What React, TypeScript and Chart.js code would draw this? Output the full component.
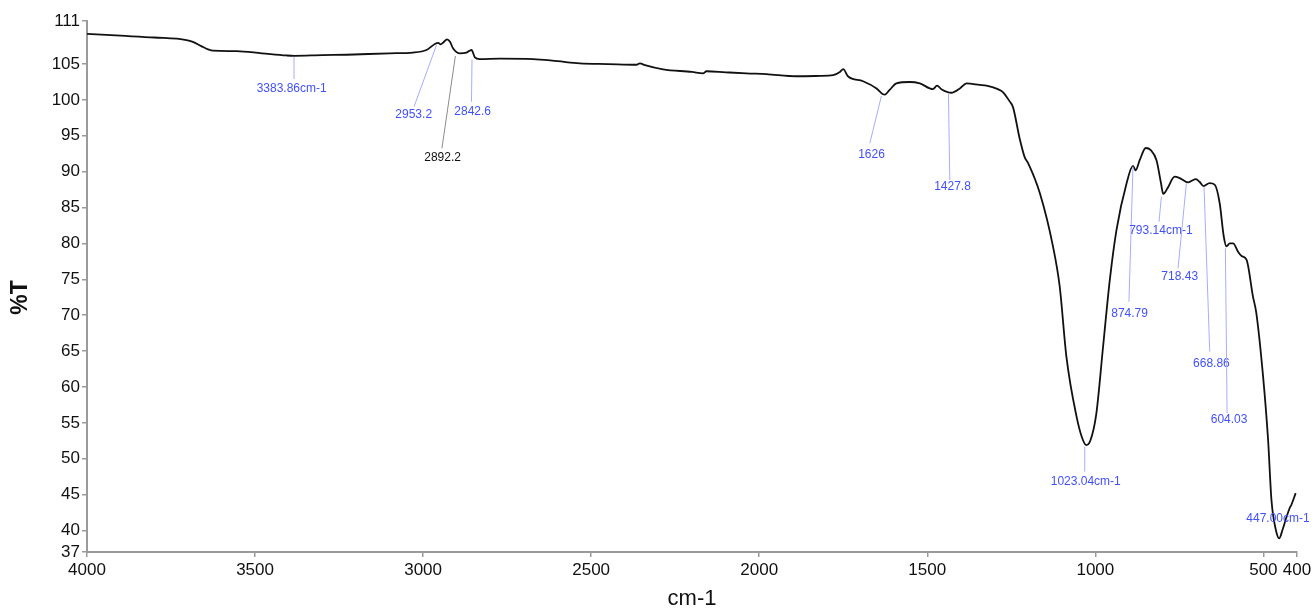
import React, { useEffect, useRef } from "react";
import { Chart, registerables } from "chart.js";

Chart.register(...registerables);

// Spectrum (wavenumber cm-1, %T)
const wavenumbers = [
  4000, 3900, 3800, 3704, 3685, 3660, 3640, 3625, 3555, 3480, 3407, 3384, 3300, 3228, 3100, 3030,
  2990, 2965, 2955, 2948, 2940, 2929, 2920, 2911, 2892, 2871, 2856, 2846, 2832, 2772, 2673, 2600,
  2534, 2450, 2365, 2355, 2340, 2286, 2200, 2167, 2157, 2100, 2038, 1979, 1889, 1820, 1780, 1760,
  1750, 1736, 1691, 1651, 1632, 1626, 1612, 1592, 1552, 1522, 1483, 1471, 1458, 1428, 1403, 1383,
  1344, 1324, 1290, 1275, 1255, 1245, 1225, 1210, 1200, 1165, 1126, 1106, 1086, 1056, 1040, 1027,
  1015, 997, 977, 957, 937, 907, 888, 880, 868, 850, 835, 818, 805, 798, 790, 784, 764, 749, 724,
  711, 701, 690, 678, 660, 645, 630, 618, 610, 600, 590, 575, 565, 550, 531, 521, 501, 486, 476,
  463, 453, 443, 431, 422, 417, 404,
];
const transmittance = [
  109.2, 108.95, 108.7, 108.35, 108.1, 107.5, 107.05, 106.86, 106.8, 106.5, 106.2, 106.15, 106.25, 106.3, 106.5, 106.6,
  106.96, 107.8, 107.95, 107.75, 108.0, 108.45, 108.1, 107.2, 106.5, 106.6, 106.96, 105.94, 105.7, 105.75, 105.7, 105.4,
  105.1, 105.0, 104.9, 105.1, 104.85, 104.27, 103.9, 103.7, 104.0, 103.85, 103.7, 103.6, 103.3, 103.35, 103.45, 103.9,
  104.3, 103.3, 102.6, 101.6, 100.8, 100.75, 101.4, 102.3, 102.5, 102.3, 101.5, 102.0, 101.5, 101.0, 101.6, 102.3,
  102.1, 102.0, 101.5, 101.1, 99.8, 99.0, 94.6, 92.0, 91.2, 87.0, 79.6, 74.0, 64.2, 55.9, 53.0, 51.9,
  52.5, 56.3, 65.6, 74.9, 81.9, 88.4, 90.8, 90.2, 91.6, 93.3, 93.0, 91.6, 88.5, 86.9, 87.3, 87.8, 89.3, 89.1, 88.5,
  88.8, 88.95, 88.6, 88.0, 88.4, 88.2, 85.6, 81.0, 79.6, 80.0, 80.0, 78.8, 78.25, 77.7, 72.6, 70.3, 61.5, 52.6, 44.25,
  40.1, 38.9, 40.1, 41.9, 43.1, 43.55, 45.2,
];

const xTickValues = [4000, 3500, 3000, 2500, 2000, 1500, 1000, 500, 400];
const yTickValues = [37, 40, 45, 50, 55, 60, 65, 70, 75, 80, 85, 90, 95, 100, 105, 111];

// Peak annotations (data coordinates)
const peakLabels = [
  "3383.86cm-1", "2953.2", "2892.2", "2842.6", "1626", "1427.8", "1023.04cm-1",
  "874.79", "793.14cm-1", "718.43", "668.86", "604.03", "447.00cm-1",
];
const peakX = [3384, 2960, 2904, 2854.5, 1636.5, 1437, 1031.5, 888, 803.4, 729, 676.6, 613, null];
const peakY = [106.0, 107.66, 106.12, 105.66, 100.55, 100.9, 51.68, 90.7, 86.52, 88.38, 87.9, 79.33, null];
const leaderEndX = [3384, 3027, 2944, 2856, 1671, 1433, 1031.5, 900, 810.5, 754, 659.6, 608, null];
const leaderEndY = [102.9, 99.06, 93.26, 99.75, 93.96, 88.84, 48.2, 71.88, 83.03, 76.54, 64.92, 56.33, null];
const labelX = [3391, 3028, 2942, 2852.5, 1666, 1425, 1028.5, 898, 805, 749, 654.6, 602, 456.5];
const labelY = [101.5, 98.0, 91.9, 98.3, 92.33, 87.9, 46.8, 70.17, 81.8, 75.4, 63.3, 55.4, 41.7];
const labelIsBlack = [false, false, true, false, false, false, false, false, false, false, false, false, false];

const FONT = '"Liberation Sans", Arial, Helvetica, sans-serif';

const peakPlugin = {
  id: "peakLabels",
  afterDatasetsDraw(chart: any) {
    const { ctx, scales } = chart;
    const x = scales.x;
    const y = scales.y;
    ctx.save();
    ctx.font = `12px ${FONT}`;
    ctx.textAlign = "center";
    ctx.textBaseline = "middle";
    for (let i = 0; i < peakLabels.length; i++) {
      const black = labelIsBlack[i];
      if (peakX[i] != null) {
        ctx.strokeStyle = black ? "#8c8c8c" : "#a8acff";
        ctx.lineWidth = 1;
        ctx.beginPath();
        ctx.moveTo(x.getPixelForValue(peakX[i]), y.getPixelForValue(peakY[i]));
        ctx.lineTo(x.getPixelForValue(leaderEndX[i]), y.getPixelForValue(leaderEndY[i]));
        ctx.stroke();
      }
      ctx.fillStyle = black ? "#111111" : "#4150ff";
      ctx.fillText(peakLabels[i], x.getPixelForValue(labelX[i]), y.getPixelForValue(labelY[i]));
    }
    ctx.restore();
  },
};

const yTitlePlugin = {
  id: "yTitle",
  afterDraw(chart: any) {
    const { ctx, chartArea } = chart;
    ctx.save();
    ctx.translate(21, (chartArea.top + chartArea.bottom) / 2 + 11);
    ctx.rotate(-Math.PI / 2);
    ctx.font = `bold 23px ${FONT}`;
    ctx.fillStyle = "#111111";
    ctx.textAlign = "center";
    ctx.textBaseline = "middle";
    ctx.fillText("%T", 0, 0);
    ctx.restore();
  },
};

export default function App() {
  const canvasRef = useRef<HTMLCanvasElement | null>(null);

  useEffect(() => {
    if (!canvasRef.current) return;
    const points = wavenumbers.map((w, i) => ({ x: w, y: transmittance[i] }));
    const tickFont = { family: FONT, size: 17 };
    const chart = new Chart(canvasRef.current, {
      type: "line",
      data: {
        datasets: [
          {
            data: points,
            borderColor: "#111111",
            borderWidth: 1.8,
            pointRadius: 0,
            fill: false,
            cubicInterpolationMode: "monotone",
          },
        ],
      },
      options: {
        animation: false,
        responsive: false,
        devicePixelRatio: 1,
        parsing: false,
        layout: { padding: { left: 0, right: 19, top: 21, bottom: 0 } },
        plugins: {
          legend: { display: false },
          tooltip: { enabled: false },
        },
        scales: {
          x: {
            type: "linear",
            reverse: true,
            min: 400,
            max: 4000,
            afterBuildTicks: (scale: any) => {
              scale.ticks = xTickValues.map((v) => ({ value: v }));
            },
            afterFit: (scale: any) => {
              scale.height = 60;
              scale.paddingLeft = 0;
              scale.paddingRight = 0;
            },
            ticks: {
              autoSkip: false,
              maxRotation: 0,
              minRotation: 0,
              padding: 3,
              color: "#111111",
              font: tickFont,
              callback: (v: any) => String(v),
            },
            grid: {
              drawOnChartArea: false,
              drawTicks: true,
              tickLength: 5,
              color: "#9a9a9a",
              lineWidth: 1.5,
            },
            border: { display: true, color: "#9a9a9a", width: 2 },
            title: {
              display: true,
              text: "cm-1",
              color: "#111111",
              font: { family: FONT, size: 22 },
              padding: { top: 0, bottom: 0 },
            },
          },
          y: {
            type: "linear",
            min: 37,
            max: 111,
            afterBuildTicks: (scale: any) => {
              scale.ticks = yTickValues.map((v) => ({ value: v }));
            },
            afterFit: (scale: any) => {
              scale.width = 87;
              scale.paddingTop = 0;
              scale.paddingBottom = 0;
            },
            ticks: {
              autoSkip: false,
              padding: 2,
              color: "#111111",
              font: tickFont,
              callback: (v: any) => String(v),
            },
            grid: {
              drawOnChartArea: false,
              drawTicks: true,
              tickLength: 5,
              color: "#9a9a9a",
              lineWidth: 1.5,
            },
            border: { display: true, color: "#9a9a9a", width: 2 },
          },
        },
      },
      plugins: [peakPlugin, yTitlePlugin],
    } as any);
    return () => chart.destroy();
  }, []);

  return (
    <div style={{ position: "absolute", left: 0, top: 0, width: 1316, height: 612, background: "#ffffff" }}>
      <canvas ref={canvasRef} width={1316} height={612} style={{ display: "block" }} />
    </div>
  );
}
